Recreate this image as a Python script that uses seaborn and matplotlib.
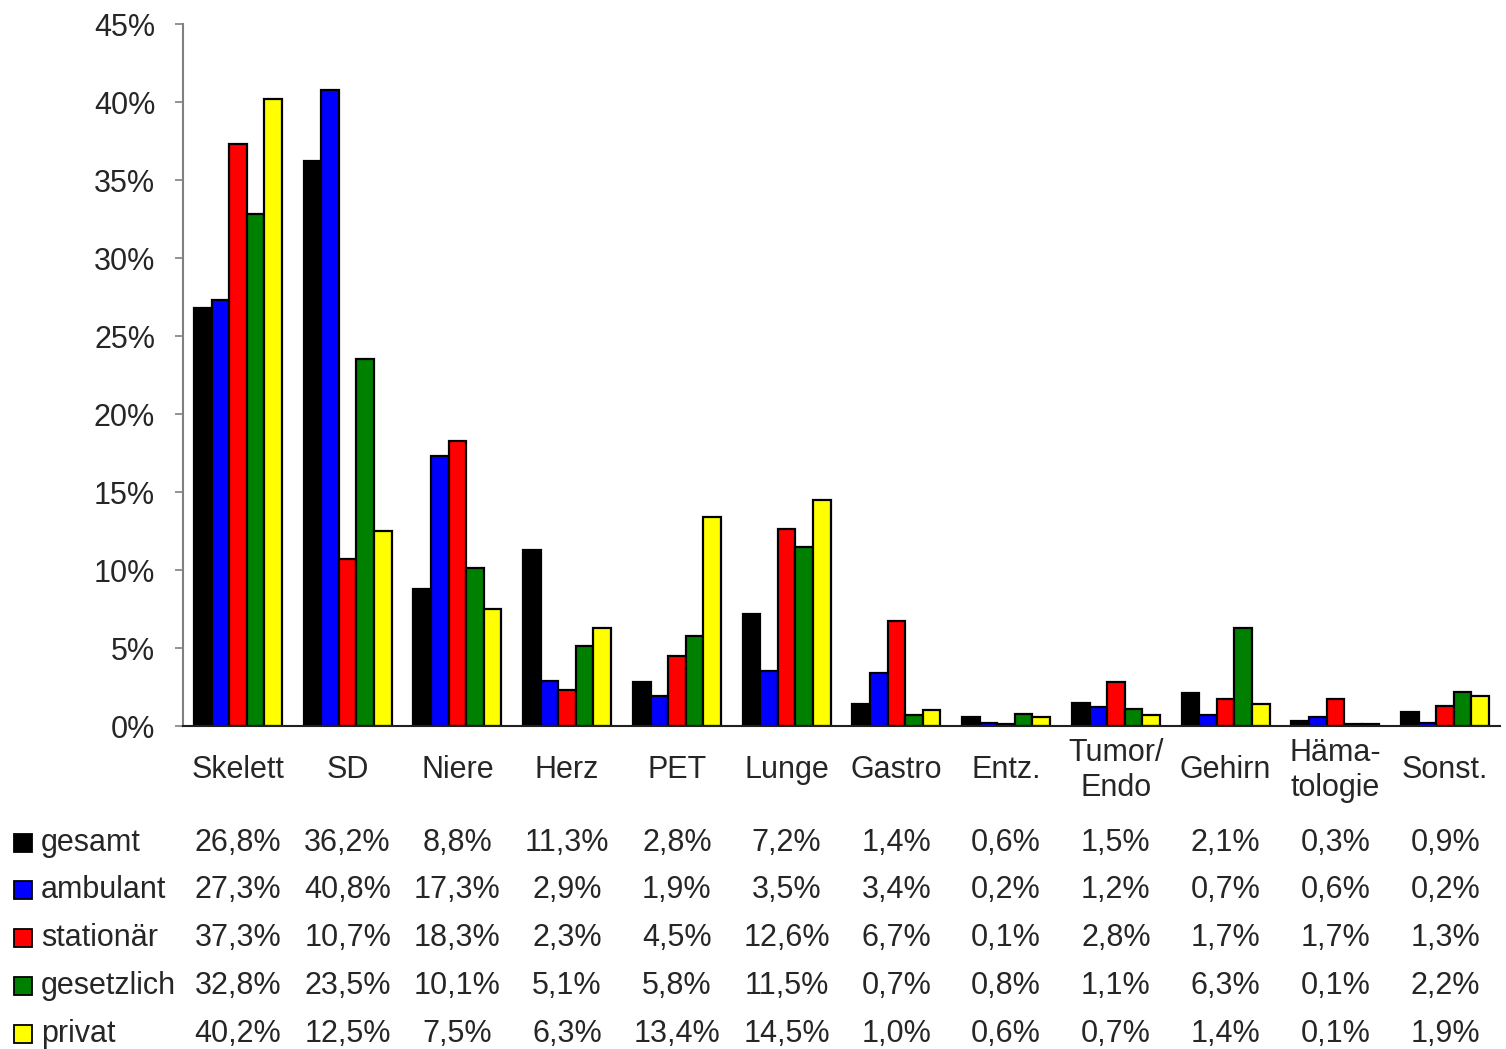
import matplotlib
matplotlib.use("Agg")
import matplotlib.pyplot as plt
import matplotlib.transforms as mtransforms
from matplotlib.patches import Rectangle
import seaborn as sns
import pandas as pd

categories = ["Skelett", "SD", "Niere", "Herz", "PET", "Lunge", "Gastro",
              "Entz.", "Tumor/\nEndo", "Gehirn", "Häma-\ntologie", "Sonst."]
series_names = ["gesamt", "ambulant", "stationär", "gesetzlich", "privat"]
gesamt = [26.8, 36.2, 8.8, 11.3, 2.8, 7.2, 1.4, 0.6, 1.5, 2.1, 0.3, 0.9]
ambulant = [27.3, 40.8, 17.3, 2.9, 1.9, 3.5, 3.4, 0.2, 1.2, 0.7, 0.6, 0.2]
stationaer = [37.3, 10.7, 18.3, 2.3, 4.5, 12.6, 6.7, 0.1, 2.8, 1.7, 1.7, 1.3]
gesetzlich = [32.8, 23.5, 10.1, 5.1, 5.8, 11.5, 0.7, 0.8, 1.1, 6.3, 0.1, 2.2]
privat = [40.2, 12.5, 7.5, 6.3, 13.4, 14.5, 1.0, 0.6, 0.7, 1.4, 0.1, 1.9]
series_values = [gesamt, ambulant, stationaer, gesetzlich, privat]
colors = ["#000000", "#0000FF", "#FF0000", "#008000", "#FFFF00"]
y_ticks = [0, 5, 10, 15, 20, 25, 30, 35, 40, 45]

sns.set_theme(style="white")
plt.rcParams["font.family"] = ["Liberation Sans", "DejaVu Sans"]

rows = []
for name, vals in zip(series_names, series_values):
    for cat, v in zip(categories, vals):
        rows.append({"Kategorie": cat, "Gruppe": name, "Anteil": v})
df = pd.DataFrame(rows)

FS = 22
W, H = 1506, 1049
fig = plt.figure(figsize=(W / 100, H / 100), dpi=100)
ax = fig.add_axes([183 / W, 1 - 726 / H, (1500 - 183) / W, (726 - 24) / H])

sns.barplot(data=df, x="Kategorie", y="Anteil", hue="Gruppe",
            order=categories, hue_order=series_names, palette=colors,
            width=0.8, edgecolor="black", linewidth=1.6, saturation=1,
            legend=False, ax=ax)

ax.set_xlim(-0.5, len(categories) - 0.5)
ax.set_ylim(0, 45)
ax.set_yticks(y_ticks)
ax.set_yticklabels([f"{t}%" for t in y_ticks], fontsize=FS)
ax.set_xlabel("")
ax.set_ylabel("")
ax.set_xticks(range(len(categories)))
ax.set_xticklabels(categories, fontsize=FS, va="center", linespacing=1.25)
ax.tick_params(axis="x", length=0, pad=32)
ax.tick_params(axis="y", length=6, width=1.2, color="#808080", left=True,
               direction="out", pad=14)
for side in ("top", "right"):
    ax.spines[side].set_visible(False)
ax.spines["left"].set_color("#808080")
ax.spines["left"].set_linewidth(1.5)
ax.spines["bottom"].set_color("#202020")
ax.spines["bottom"].set_linewidth(1.5)
ax.grid(False)

# data table under the chart
trans = mtransforms.blended_transform_factory(ax.transData, fig.transFigure)
row_y = [843, 890, 938, 986, 1034]
for name, vals, col, ypx in zip(series_names, series_values, colors, row_y):
    yf = 1 - ypx / H
    fig.patches.append(Rectangle((14 / W, yf - 9 / H), 18 / W, 18 / H,
                                 transform=fig.transFigure, facecolor=col,
                                 edgecolor="black", linewidth=1.3))
    fig.text(41 / W, yf, name, fontsize=FS, va="center", ha="left")
    for i, v in enumerate(vals):
        ax.text(i, yf, f"{v:.1f}%".replace(".", ","), transform=trans,
                fontsize=FS, va="center", ha="center", clip_on=False)

fig.savefig("out.png", dpi=100, facecolor="white")
